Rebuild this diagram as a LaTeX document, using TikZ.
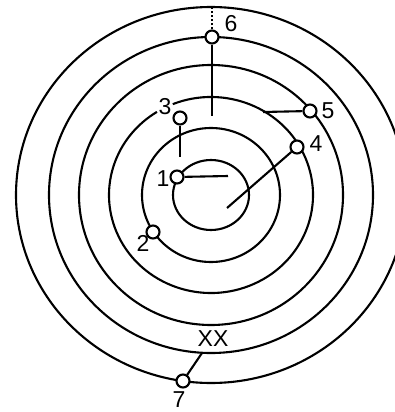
\documentclass[tikz,border=0pt]{standalone}
\usepackage{fontspec}
\setmainfont{Liberation Sans}
\usetikzlibrary{calc}
\begin{document}
\begin{tikzpicture}[x=1pt,y=-1pt,
  ring/.style={line width=2.1pt},
  wire/.style={line width=2.1pt},
  term/.style={circle,draw,fill=white,line width=2.1pt,minimum size=13pt,inner sep=0pt},
  lbl/.style={font=\fontsize{23}{23}\selectfont,inner sep=0pt}]
\useasboundingbox (0,0) rectangle (395,412);
\clip (0,0) rectangle (395,412);
\coordinate (cen) at (211,195);
% rings
\draw[ring] (cen) ellipse [x radius=38, y radius=35];
\draw[ring] (cen) ellipse [x radius=69, y radius=67];
\draw[ring] ($(cen)+(248:102 and 98)$) arc[start angle=248, end angle=598, x radius=102, y radius=98];
\draw[ring] (cen) ellipse [x radius=132, y radius=130];
\draw[ring] (cen) ellipse [x radius=162, y radius=158];
\draw[ring] (cen) ellipse [x radius=195, y radius=188];
% wire ends
\coordinate (e1) at (228,176);
\coordinate (e3) at (180,157);
\coordinate (e4) at (227,208);
\coordinate (e5) at (263,112);
\coordinate (e6) at (212,116);
\coordinate (e6t) at (212,8);
\coordinate (e7) at (202,353);
% terminals
\node[term] (t1) at (177,177) {};
\node[term] (t2) at (153,232) {};
\node[term] (t3) at (180,118) {};
\node[term] (t4) at (297,147) {};
\node[term] (t5) at (310,111) {};
\node[term] (t6) at (212,37) {};
\node[term] (t7) at (183,381) {};
% wires
\draw[wire] (t1) -- (e1);
\draw[wire] (t3) -- (e3);
\draw[wire] (t4) -- (e4);
\draw[wire] (t5) -- (e5);
\draw[wire] (t6) -- (e6);
\draw[wire,dotted,line width=1.6pt] (t6) -- (e6t);
\draw[wire] (t7) -- (e7);
% labels
\node[lbl] (l1) at (163,179) {1};
\node[lbl] (l2) at (143,243) {2};
\node[lbl] (l3) at (165,107) {3};
\node[lbl] (l4) at (316,144) {4};
\node[lbl] (l5) at (328,111) {5};
\node[lbl] (l6) at (231,24) {6};
\node[lbl] (l7) at (179,400) {7};
\node[lbl] (lx) at (213,339) {XX};
\end{tikzpicture}
\end{document}
